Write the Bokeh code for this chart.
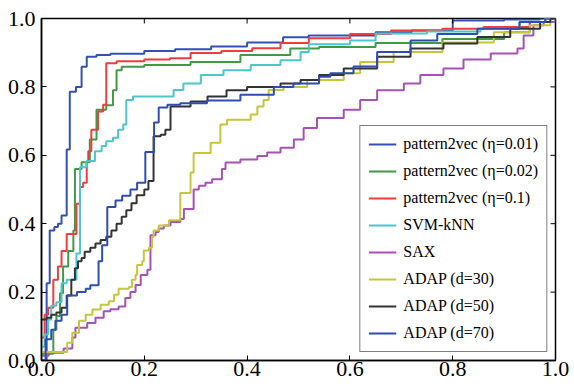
import math
from bokeh.plotting import figure
from bokeh.models import Range1d, FixedTicker, NumeralTickFormatter, Legend
from bokeh.embed import file_html
from bokeh.resources import INLINE

# ---- data (FPR, TPR) step points: at x[i] the curve jumps to y[i] ----
p2v_001_x = [0, 0.010, 0.016, 0.025, 0.032, 0.039, 0.049, 0.055, 0.067, 0.078, 0.088, 0.107, 0.134, 0.2, 0.26, 0.33, 0.40, 0.47, 0.52, 0.65, 0.72, 0.80, 0.90, 0.97, 1.0]
p2v_001_y = [0, 0.226, 0.38, 0.39, 0.40, 0.424, 0.617, 0.786, 0.80, 0.859, 0.888, 0.893, 0.897, 0.905, 0.91, 0.918, 0.93, 0.945, 0.95, 0.96, 0.965, 0.994, 0.997, 1.0, 1.0]

p2v_002_x = [0, 0.023, 0.029, 0.036, 0.042, 0.052, 0.062, 0.065, 0.078, 0.094, 0.107, 0.126, 0.139, 0.146, 0.156, 0.2, 0.29, 0.387, 0.484, 0.54, 0.65, 0.78, 0.9, 0.95, 0.98, 1.0]
p2v_002_y = [0.02, 0.09, 0.13, 0.197, 0.275, 0.32, 0.38, 0.56, 0.58, 0.646, 0.733, 0.746, 0.79, 0.849, 0.859, 0.864, 0.873, 0.893, 0.912, 0.917, 0.928, 0.94, 0.96, 0.99, 1.0, 1.0]

p2v_01_x = [0, 0.006, 0.013, 0.023, 0.032, 0.039, 0.049, 0.068, 0.075, 0.081, 0.088, 0.091, 0.097, 0.11, 0.12, 0.126, 0.146, 0.2, 0.25, 0.29, 0.35, 0.41, 0.465, 0.52, 0.6, 0.68, 0.78, 0.86, 0.95, 0.98, 1.0]
p2v_01_y = [0.067, 0.134, 0.154, 0.236, 0.275, 0.32, 0.37, 0.458, 0.507, 0.52, 0.583, 0.612, 0.675, 0.728, 0.748, 0.869, 0.875, 0.88, 0.884, 0.899, 0.905, 0.913, 0.928, 0.942, 0.955, 0.965, 0.97, 0.975, 0.99, 1.0, 1.0]

svm_x = [0, 0.006, 0.013, 0.019, 0.029, 0.039, 0.049, 0.068, 0.075, 0.0875, 0.104, 0.117, 0.126, 0.139, 0.149, 0.159, 0.165, 0.178, 0.257, 0.276, 0.31, 0.354, 0.407, 0.465, 0.504, 0.52, 0.6, 0.65, 0.75, 0.854, 0.93, 0.98, 1.0]
svm_y = [0.04, 0.076, 0.12, 0.16, 0.17, 0.226, 0.236, 0.313, 0.565, 0.583, 0.612, 0.627, 0.641, 0.651, 0.675, 0.69, 0.762, 0.772, 0.791, 0.81, 0.835, 0.849, 0.864, 0.878, 0.902, 0.925, 0.936, 0.956, 0.962, 0.97, 0.99, 1.0, 1.0]

sax_x = [0, 0.014, 0.043, 0.06, 0.066, 0.089, 0.105, 0.121, 0.134, 0.15, 0.163, 0.173, 0.183, 0.193, 0.206, 0.212, 0.222, 0.228, 0.238, 0.251, 0.27, 0.277, 0.296, 0.306, 0.319, 0.332, 0.351, 0.358, 0.387, 0.42, 0.439, 0.465, 0.491, 0.51, 0.536, 0.588, 0.62, 0.653, 0.705, 0.737, 0.782, 0.821, 0.874, 0.926, 0.938, 0.957, 0.977, 1.0]
sax_y = [0.014, 0.023, 0.035, 0.067, 0.096, 0.11, 0.125, 0.144, 0.15, 0.158, 0.183, 0.2, 0.221, 0.25, 0.265, 0.366, 0.376, 0.386, 0.395, 0.405, 0.414, 0.443, 0.5, 0.511, 0.52, 0.53, 0.56, 0.579, 0.588, 0.598, 0.608, 0.622, 0.646, 0.68, 0.709, 0.733, 0.762, 0.79, 0.81, 0.835, 0.854, 0.88, 0.898, 0.912, 0.95, 0.98, 0.99, 1.0]

adap30_x = [0, 0.05, 0.06, 0.073, 0.086, 0.099, 0.115, 0.131, 0.141, 0.15, 0.17, 0.176, 0.183, 0.186, 0.196, 0.199, 0.209, 0.215, 0.218, 0.228, 0.248, 0.27, 0.29, 0.296, 0.329, 0.348, 0.361, 0.407, 0.42, 0.432, 0.442, 0.471, 0.517, 0.588, 0.62, 0.685, 0.78, 0.88, 0.95, 0.99, 1.0]
adap30_y = [0.025, 0.052, 0.081, 0.116, 0.134, 0.149, 0.163, 0.173, 0.192, 0.21, 0.215, 0.236, 0.25, 0.279, 0.29, 0.322, 0.33, 0.361, 0.38, 0.395, 0.41, 0.49, 0.55, 0.607, 0.637, 0.69, 0.704, 0.719, 0.743, 0.762, 0.791, 0.80, 0.82, 0.84, 0.873, 0.902, 0.93, 0.96, 0.98, 1.0, 1.0]

adap50_x = [0, 0.01, 0.019, 0.029, 0.039, 0.049, 0.058, 0.065, 0.071, 0.078, 0.084, 0.095, 0.105, 0.115, 0.126, 0.136, 0.146, 0.156, 0.165, 0.175, 0.185, 0.2, 0.208, 0.218, 0.232, 0.241, 0.251, 0.29, 0.323, 0.36, 0.40, 0.465, 0.504, 0.54, 0.588, 0.653, 0.718, 0.782, 0.848, 0.912, 0.97, 0.99, 1.0]
adap50_y = [0.12, 0.125, 0.134, 0.14, 0.154, 0.19, 0.236, 0.27, 0.29, 0.30, 0.318, 0.33, 0.342, 0.352, 0.362, 0.38, 0.40, 0.42, 0.439, 0.46, 0.483, 0.50, 0.525, 0.656, 0.66, 0.675, 0.743, 0.757, 0.772, 0.79, 0.80, 0.81, 0.82, 0.835, 0.854, 0.888, 0.912, 0.927, 0.946, 0.97, 0.99, 1.0, 1.0]

adap70_x = [0, 0.008, 0.019, 0.027, 0.039, 0.05, 0.069, 0.086, 0.095, 0.111, 0.118, 0.128, 0.144, 0.157, 0.173, 0.186, 0.202, 0.219, 0.228, 0.245, 0.27, 0.322, 0.387, 0.452, 0.49, 0.54, 0.562, 0.607, 0.653, 0.718, 0.77, 0.848, 0.93, 0.98, 1.0]
adap70_y = [0.0, 0.062, 0.09, 0.116, 0.134, 0.19, 0.2, 0.21, 0.22, 0.29, 0.337, 0.449, 0.468, 0.482, 0.5, 0.52, 0.61, 0.696, 0.74, 0.748, 0.752, 0.76, 0.777, 0.80, 0.81, 0.83, 0.84, 0.86, 0.902, 0.936, 0.955, 0.97, 0.99, 1.0, 1.0]

labels = ["pattern2vec (η=0.01)", "pattern2vec (η=0.02)", "pattern2vec (η=0.1)",
          "SVM-kNN", "SAX", "ADAP (d=30)", "ADAP (d=50)", "ADAP (d=70)"]
colors = ["#3550b5", "#3f9a45", "#f03c3c", "#4cc6c8", "#a552b5", "#c6c63c", "#333333", "#2f4cb0"]
series = [(p2v_001_x, p2v_001_y), (p2v_002_x, p2v_002_y), (p2v_01_x, p2v_01_y),
          (svm_x, svm_y), (sax_x, sax_y), (adap30_x, adap30_y),
          (adap50_x, adap50_y), (adap70_x, adap70_y)]
ticks = [0.0, 0.2, 0.4, 0.6, 0.8, 1.0]

FONT = "Liberation Serif"
X_MIN, X_MAX, Y_MIN, Y_MAX = 0.0, 1.0, 0.0, 1.0

p = figure(width=574, height=386, output_backend="svg", toolbar_location=None,
           x_range=Range1d(X_MIN, X_MAX), y_range=Range1d(Y_MIN, Y_MAX),
           min_border_left=41, min_border_right=19, min_border_top=18, min_border_bottom=26)
p.grid.visible = False
p.outline_line_color = "black"
p.outline_line_width = 1.5
p.background_fill_color = "white"

items = []
for (xs, ys), lab, col in zip(series, labels, colors):
    r = p.step(xs, ys, mode="after", line_color=col, line_width=2)
    items.append((lab, [r]))

# inward ticks on top and right edges
p.ray(x=ticks, y=[Y_MAX] * len(ticks), length=5, length_units="screen",
      angle=-math.pi / 2, line_color="black", line_width=1)
p.ray(x=[X_MAX] * len(ticks), y=ticks, length=5, length_units="screen",
      angle=math.pi, line_color="black", line_width=1)

for ax in (p.xaxis[0], p.yaxis[0]):
    ax.ticker = FixedTicker(ticks=ticks)
    ax.formatter = NumeralTickFormatter(format="0.0")
    ax.axis_line_color = "black"
    ax.axis_line_width = 1.5
    ax.major_tick_in = 5
    ax.major_tick_out = 0
    ax.major_tick_line_color = "black"
    ax.major_tick_line_width = 1
    ax.minor_tick_line_color = None
    ax.major_label_text_font = FONT
    ax.major_label_text_color = "black"
    ax.major_label_text_font_size = "22px"
p.xaxis[0].major_label_standoff = 1
p.yaxis[0].major_label_standoff = 6

legend = Legend(items=items, location="bottom_right")
legend.label_text_font = FONT
legend.label_text_font_size = "16px"
legend.label_text_color = "black"
legend.glyph_width = 28
legend.glyph_height = 20
legend.label_height = 20
legend.label_standoff = 7
legend.spacing = 7
legend.padding = 8
legend.margin = 8
legend.border_line_color = "black"
legend.border_line_width = 1.5
legend.background_fill_color = "white"
legend.background_fill_alpha = 1.0
p.add_layout(legend)

open("out.html", "w").write(file_html(p, INLINE))
